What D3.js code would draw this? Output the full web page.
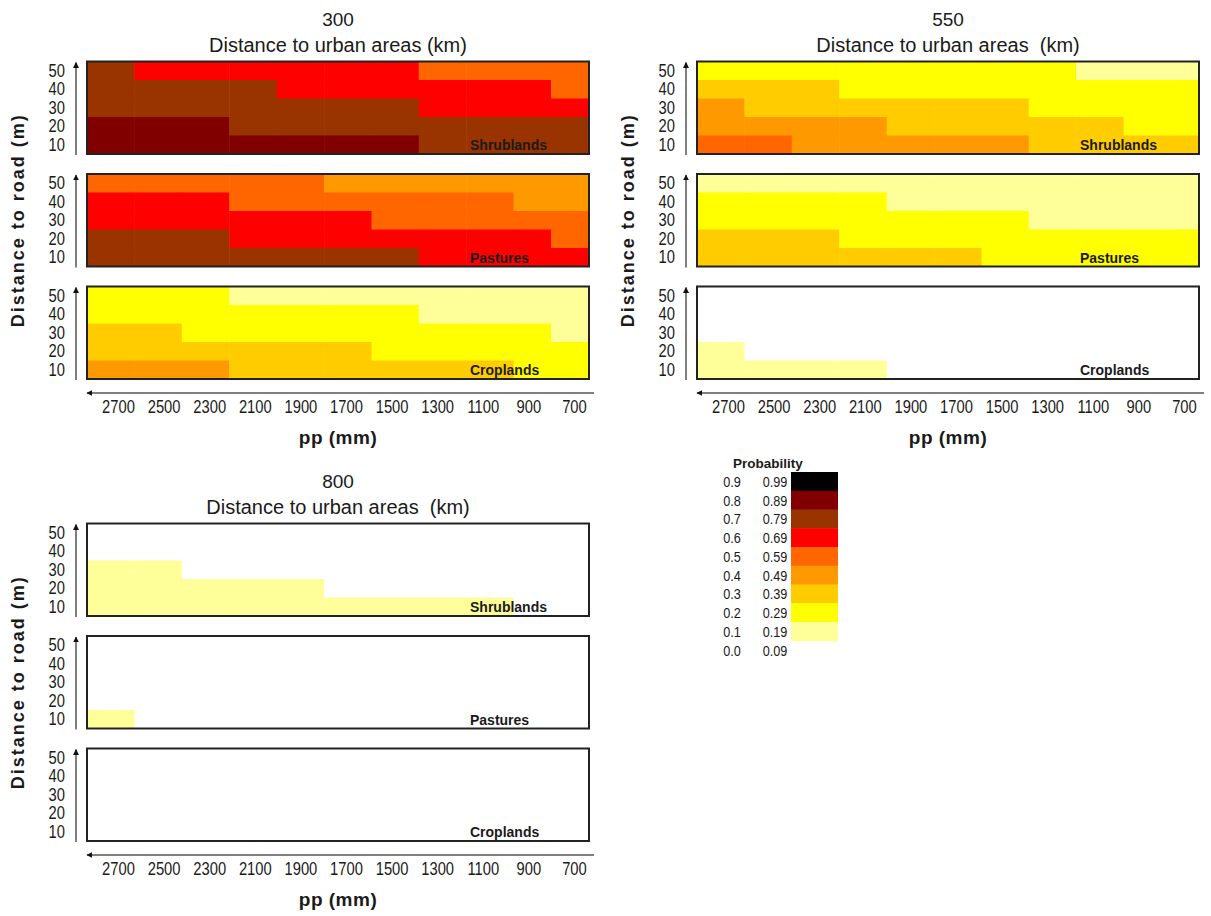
<!DOCTYPE html>
<html>
<head>
<meta charset="utf-8">
<script src="https://cdn.jsdelivr.net/npm/d3@7"></script>
<style>
  html, body { margin: 0; padding: 0; background: #fff; }
  svg { display: block; }
  text { font-family: "Liberation Sans", Arial, sans-serif; }
</style>
</head>
<body>
<svg id="chart" width="1211" height="916"></svg>
<script>
// ---------------- DATA ----------------
const urbanDistances = ["300", "550", "800"];
const urbanTitles = ["Distance to urban areas (km)", "Distance to urban areas  (km)", "Distance to urban areas  (km)"];
const landUses = ["Shrublands", "Pastures", "Croplands"];
const roadDistances = [50, 40, 30, 20, 10];               // rows, top to bottom
const ppTicks = [2700, 2500, 2300, 2100, 1900, 1700, 1500, 1300, 1100, 900, 700];
const ppEdges = [2836, 2628, 2420, 2212, 2004, 1796, 1588, 1381, 1173, 965, 801, 634]; // cell borders (mm)

const probLow  = [0.9, 0.8, 0.7, 0.6, 0.5, 0.4, 0.3, 0.2, 0.1, 0.0];
const probHigh = [0.99, 0.89, 0.79, 0.69, 0.59, 0.49, 0.39, 0.29, 0.19, 0.09];
const probColors = ["#000000", "#800000", "#993300", "#ff0000", "#ff6600", "#ff9900", "#ffcc00", "#ffff00", "#ffff99", "#ffffff"];

// probability class (lower bound) per cell: rows = road 50..10, cols = ppEdges cells
const prob300Shrublands = [
  [0.7, 0.6, 0.6, 0.6, 0.6, 0.6, 0.6, 0.5, 0.5, 0.5, 0.5],
  [0.7, 0.7, 0.7, 0.7, 0.6, 0.6, 0.6, 0.6, 0.6, 0.6, 0.5],
  [0.7, 0.7, 0.7, 0.7, 0.7, 0.7, 0.7, 0.6, 0.6, 0.6, 0.6],
  [0.8, 0.8, 0.8, 0.7, 0.7, 0.7, 0.7, 0.7, 0.7, 0.7, 0.7],
  [0.8, 0.8, 0.8, 0.8, 0.8, 0.8, 0.8, 0.7, 0.7, 0.7, 0.7]
];
const prob300Pastures = [
  [0.5, 0.5, 0.5, 0.5, 0.5, 0.4, 0.4, 0.4, 0.4, 0.4, 0.4],
  [0.6, 0.6, 0.6, 0.5, 0.5, 0.5, 0.5, 0.5, 0.5, 0.4, 0.4],
  [0.6, 0.6, 0.6, 0.6, 0.6, 0.6, 0.5, 0.5, 0.5, 0.5, 0.5],
  [0.7, 0.7, 0.7, 0.6, 0.6, 0.6, 0.6, 0.6, 0.6, 0.6, 0.5],
  [0.7, 0.7, 0.7, 0.7, 0.7, 0.7, 0.7, 0.6, 0.6, 0.6, 0.6]
];
const prob300Croplands = [
  [0.2, 0.2, 0.2, 0.1, 0.1, 0.1, 0.1, 0.1, 0.1, 0.1, 0.1],
  [0.2, 0.2, 0.2, 0.2, 0.2, 0.2, 0.2, 0.1, 0.1, 0.1, 0.1],
  [0.3, 0.3, 0.2, 0.2, 0.2, 0.2, 0.2, 0.2, 0.2, 0.2, 0.1],
  [0.3, 0.3, 0.3, 0.3, 0.3, 0.3, 0.2, 0.2, 0.2, 0.2, 0.2],
  [0.4, 0.4, 0.4, 0.3, 0.3, 0.3, 0.3, 0.3, 0.3, 0.2, 0.2]
];
const prob550Shrublands = [
  [0.2, 0.2, 0.2, 0.2, 0.2, 0.2, 0.2, 0.2, 0.1, 0.1, 0.1],
  [0.3, 0.3, 0.3, 0.2, 0.2, 0.2, 0.2, 0.2, 0.2, 0.2, 0.2],
  [0.4, 0.3, 0.3, 0.3, 0.3, 0.3, 0.3, 0.2, 0.2, 0.2, 0.2],
  [0.4, 0.4, 0.4, 0.4, 0.3, 0.3, 0.3, 0.3, 0.3, 0.2, 0.2],
  [0.5, 0.5, 0.4, 0.4, 0.4, 0.4, 0.4, 0.3, 0.3, 0.3, 0.3]
];
const prob550Pastures = [
  [0.1, 0.1, 0.1, 0.1, 0.1, 0.1, 0.1, 0.1, 0.1, 0.1, 0.1],
  [0.2, 0.2, 0.2, 0.2, 0.1, 0.1, 0.1, 0.1, 0.1, 0.1, 0.1],
  [0.2, 0.2, 0.2, 0.2, 0.2, 0.2, 0.2, 0.1, 0.1, 0.1, 0.1],
  [0.3, 0.3, 0.3, 0.2, 0.2, 0.2, 0.2, 0.2, 0.2, 0.2, 0.2],
  [0.3, 0.3, 0.3, 0.3, 0.3, 0.3, 0.2, 0.2, 0.2, 0.2, 0.2]
];
const prob550Croplands = [
  [0.0, 0.0, 0.0, 0.0, 0.0, 0.0, 0.0, 0.0, 0.0, 0.0, 0.0],
  [0.0, 0.0, 0.0, 0.0, 0.0, 0.0, 0.0, 0.0, 0.0, 0.0, 0.0],
  [0.0, 0.0, 0.0, 0.0, 0.0, 0.0, 0.0, 0.0, 0.0, 0.0, 0.0],
  [0.1, 0.0, 0.0, 0.0, 0.0, 0.0, 0.0, 0.0, 0.0, 0.0, 0.0],
  [0.1, 0.1, 0.1, 0.1, 0.0, 0.0, 0.0, 0.0, 0.0, 0.0, 0.0]
];
const prob800Shrublands = [
  [0.0, 0.0, 0.0, 0.0, 0.0, 0.0, 0.0, 0.0, 0.0, 0.0, 0.0],
  [0.0, 0.0, 0.0, 0.0, 0.0, 0.0, 0.0, 0.0, 0.0, 0.0, 0.0],
  [0.1, 0.1, 0.0, 0.0, 0.0, 0.0, 0.0, 0.0, 0.0, 0.0, 0.0],
  [0.1, 0.1, 0.1, 0.1, 0.1, 0.0, 0.0, 0.0, 0.0, 0.0, 0.0],
  [0.1, 0.1, 0.1, 0.1, 0.1, 0.1, 0.1, 0.1, 0.1, 0.0, 0.0]
];
const prob800Pastures = [
  [0.0, 0.0, 0.0, 0.0, 0.0, 0.0, 0.0, 0.0, 0.0, 0.0, 0.0],
  [0.0, 0.0, 0.0, 0.0, 0.0, 0.0, 0.0, 0.0, 0.0, 0.0, 0.0],
  [0.0, 0.0, 0.0, 0.0, 0.0, 0.0, 0.0, 0.0, 0.0, 0.0, 0.0],
  [0.0, 0.0, 0.0, 0.0, 0.0, 0.0, 0.0, 0.0, 0.0, 0.0, 0.0],
  [0.1, 0.0, 0.0, 0.0, 0.0, 0.0, 0.0, 0.0, 0.0, 0.0, 0.0]
];
const prob800Croplands = [
  [0.0, 0.0, 0.0, 0.0, 0.0, 0.0, 0.0, 0.0, 0.0, 0.0, 0.0],
  [0.0, 0.0, 0.0, 0.0, 0.0, 0.0, 0.0, 0.0, 0.0, 0.0, 0.0],
  [0.0, 0.0, 0.0, 0.0, 0.0, 0.0, 0.0, 0.0, 0.0, 0.0, 0.0],
  [0.0, 0.0, 0.0, 0.0, 0.0, 0.0, 0.0, 0.0, 0.0, 0.0, 0.0],
  [0.0, 0.0, 0.0, 0.0, 0.0, 0.0, 0.0, 0.0, 0.0, 0.0, 0.0]
];

// ---------------- LAYOUT ----------------
const panelData = [
  [prob300Shrublands, prob300Pastures, prob300Croplands],
  [prob550Shrublands, prob550Pastures, prob550Croplands],
  [prob800Shrublands, prob800Pastures, prob800Croplands]
];
const groupPos = [{x: 87, y: 0}, {x: 697, y: 0}, {x: 87, y: 462}];
const boxW = 502, boxH = 92.5, boxTop0 = 61.5, boxStep = 112.5;
const textCol = "#1a1a1a";
const narrowK = 0.82;   // horizontal squeeze to imitate a narrow face

const svg = d3.select("#chart");

const x = d3.scaleLinear().domain([ppEdges[0], ppEdges[ppEdges.length - 1]]).range([0, boxW]);
const y = d3.scaleBand().domain(roadDistances).range([0, boxH]);
const color = d3.scaleThreshold()
  .domain(probLow.slice(0, 9).slice().reverse())         // 0.1 .. 0.9
  .range(probColors.slice().reverse());                   // white .. black

// arrow marker
const defs = svg.append("defs");
defs.append("marker").attr("id", "arr").attr("viewBox", "0 0 10 10")
  .attr("refX", 9).attr("refY", 5).attr("markerWidth", 6).attr("markerHeight", 7)
  .attr("markerUnits", "userSpaceOnUse").attr("orient", "auto")
  .append("path").attr("d", "M0,0 L10,5 L0,10 Z").attr("fill", "#111");

urbanDistances.forEach((ud, gi) => {
  const g = svg.append("g").attr("transform", `translate(${groupPos[gi].x},${groupPos[gi].y})`);

  // titles
  g.append("text").attr("x", boxW / 2).attr("y", 26)
    .attr("text-anchor", "middle").attr("font-size", 19).attr("fill", textCol).text(ud);
  g.append("text").attr("x", boxW / 2).attr("y", 52)
    .attr("text-anchor", "middle").attr("font-size", 20).attr("fill", textCol)
    .style("white-space", "pre").text(urbanTitles[gi]);

  landUses.forEach((lu, li) => {
    const top = boxTop0 + li * boxStep;
    const pg = g.append("g").attr("transform", `translate(0,${top})`);
    const mat = panelData[gi][li];

    const cells = [];
    roadDistances.forEach((rd, ri) => {
      mat[ri].forEach((v, ci) => cells.push({rd, ci, v}));
    });
    pg.append("g").selectAll("rect").data(cells).join("rect")
      .attr("x", d => x(ppEdges[d.ci]))
      .attr("width", d => x(ppEdges[d.ci + 1]) - x(ppEdges[d.ci]) + 0.5)
      .attr("y", d => y(d.rd))
      .attr("height", y.bandwidth() + 0.5)
      .attr("fill", d => color(d.v));

    // frame
    pg.append("rect").attr("x", 0).attr("y", 0).attr("width", boxW).attr("height", boxH)
      .attr("fill", "none").attr("stroke", "#222").attr("stroke-width", 2);

    // y axis (labels only)
    const ya = pg.append("g").call(d3.axisLeft(y).tickSize(0).tickPadding(22));
    ya.select(".domain").remove();
    ya.selectAll("text").attr("font-size", 18).attr("fill", textCol)
      .attr("x", -22 / narrowK).attr("transform", `scale(${narrowK},1)`)
      .style("font-family", "\"Liberation Sans\", Arial, sans-serif");

    // vertical arrow
    pg.append("line").attr("x1", -11).attr("x2", -11).attr("y1", boxH + 1).attr("y2", 1)
      .attr("stroke", "#555").attr("stroke-width", 1.5).attr("marker-end", "url(#arr)");

    // land-use label
    pg.append("text").attr("x", 383).attr("y", boxH - 4)
      .attr("font-size", 14).attr("font-weight", "bold").attr("fill", textCol).text(lu);
  });

  // bottom pp axis
  const bottom = boxTop0 + 2 * boxStep + boxH;
  const axY = bottom + 14;
  g.append("line").attr("x1", boxW + 5).attr("x2", 0).attr("y1", axY).attr("y2", axY)
    .attr("stroke", "#555").attr("stroke-width", 1.5).attr("marker-end", "url(#arr)");
  const xa = g.append("g").attr("transform", `translate(0,${axY})`)
    .call(d3.axisBottom(x).tickValues(ppTicks).tickFormat(d3.format("d")).tickSize(0).tickPadding(7));
  xa.select(".domain").remove();
  xa.selectAll("text").attr("font-size", 18).attr("fill", textCol)
    .attr("transform", `scale(${narrowK},1)`)
    .style("font-family", "\"Liberation Sans\", Arial, sans-serif");
  g.append("text").attr("x", boxW / 2).attr("y", axY + 51)
    .attr("text-anchor", "middle").attr("font-size", 19).attr("font-weight", "bold")
    .attr("letter-spacing", 0.5).attr("fill", textCol).text("pp (mm)");

  // y title
  const midY = boxTop0 + (2 * boxStep + boxH) / 2;
  g.append("text")
    .attr("transform", `translate(-63,${midY}) rotate(-90)`)
    .attr("text-anchor", "middle").attr("font-size", 18).attr("font-weight", "bold")
    .attr("letter-spacing", 2).attr("fill", textCol).text("Distance to road (m)");
});

// ---------------- LEGEND ----------------
const lg = svg.append("g");
const legTop = 472, legRowH = 18.75, swX = 791, swW = 47;
lg.append("text").attr("x", 768).attr("y", 468)
  .attr("text-anchor", "middle").attr("font-size", 13.5).attr("font-weight", "bold")
  .attr("fill", textCol).text("Probability");
probLow.forEach((lo, i) => {
  const cy = legTop + legRowH * (i + 0.5);
  if (i < 9) {
    lg.append("rect").attr("x", swX).attr("y", legTop + legRowH * i)
      .attr("width", swW).attr("height", legRowH + 0.5).attr("fill", probColors[i]);
  }
  lg.append("text").attr("transform", `translate(732,${cy + 5.5}) scale(${narrowK},1)`)
    .attr("text-anchor", "middle").attr("font-size", 15.5).attr("fill", textCol).text(d3.format(".1f")(lo));
  lg.append("text").attr("transform", `translate(775,${cy + 5.5}) scale(${narrowK},1)`)
    .attr("text-anchor", "middle").attr("font-size", 15.5).attr("fill", textCol).text(d3.format(".2f")(probHigh[i]));
});
</script>
</body>
</html>
